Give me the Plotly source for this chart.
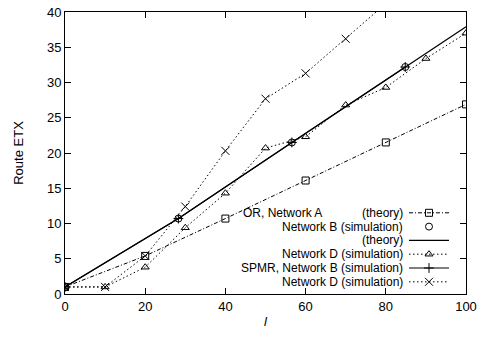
import plotly.graph_objects as go

# ---- data ----
l_A = [0, 20, 40, 60, 80, 100]
etx_OR_A_theory = [1, 5.4, 10.7, 16.1, 21.5, 26.9]

l_B = [0, 28.28, 56.57, 84.85]
etx_OR_B_sim = [1, 10.7, 21.5, 32.2]
etx_SPMR_B_sim = [1, 10.7, 21.5, 32.2]

l_theory = [0, 28.28, 56.57, 84.85, 100]
etx_theory = [1, 10.7, 21.5, 32.2, 37.9]

l_D = [0, 10, 20, 30, 40, 50, 60, 70, 80, 90, 100]
etx_OR_D_sim = [1, 1, 3.8, 9.4, 14.3, 20.7, 22.3, 26.8, 29.3, 33.4, 37.0]

l_D_spmr = [0, 10, 20, 30, 40, 50, 60, 70, 80]
etx_SPMR_D_sim = [1, 1, 5.4, 12.4, 20.3, 27.7, 31.3, 36.2, 41.2]

x_ticks = [0, 20, 40, 60, 80, 100]
y_ticks = [0, 5, 10, 15, 20, 25, 30, 35, 40]

legend_labels = ["(theory)", "Network B (simulation)", "(theory)",
                 "Network D (simulation)", "SPMR, Network B (simulation)",
                 "Network D (simulation)"]

FONT = "Liberation Sans, Arial, Helvetica, sans-serif"
DOT = "1.5px,2.5px"
DASHDOT = "4px,2px,1px,2px"

styles = [
    dict(dash=DASHDOT, symbol="square-open", lines=True, size=7),
    dict(dash=None, symbol="circle-open", lines=False, size=7),
    dict(dash="solid", symbol=None, lines=True, size=0),
    dict(dash=DOT, symbol="triangle-up-open", lines=True, size=7),
    dict(dash="solid", symbol="cross-thin-open", lines=True, size=7),
    dict(dash=DOT, symbol="x-thin-open", lines=True, size=8),
]

fig = go.Figure()

series = [
    (l_A, etx_OR_A_theory),
    (l_B, etx_OR_B_sim),
    (l_theory, etx_theory),
    (l_D, etx_OR_D_sim),
    (l_B, etx_SPMR_B_sim),
    (l_D_spmr, etx_SPMR_D_sim),
]

for (xs, ys), st in zip(series, styles):
    mode = []
    if st["lines"]:
        mode.append("lines")
    if st["symbol"]:
        mode.append("markers")
    kw = dict(x=xs, y=ys, mode="+".join(mode), showlegend=False,
              hoverinfo="skip")
    if st["lines"]:
        kw["line"] = dict(color="black", width=1.2 if st["dash"] == "solid" else 1,
                          dash=st["dash"])
    if st["symbol"]:
        kw["marker"] = dict(symbol=st["symbol"], size=st["size"], color="black",
                            line=dict(color="black", width=1))
    fig.add_trace(go.Scatter(**kw))

# ---- manual gnuplot-style legend (text right, sample on right) ----
row_px = [212.8, 226.6, 240.4, 254.2, 268.0, 281.8]
row_y = [(294 - p) / 282 for p in row_px]
sx0, sxm, sx1 = (409 - 65) / 401, (429 - 65) / 401, (449 - 65) / 401
text_right = (404 - 65) / 401
LEG_FONT = 12

for ry, st, lab in zip(row_y, styles, legend_labels):
    if st["lines"]:
        fig.add_trace(go.Scatter(x=[sx0, sx1], y=[ry, ry], mode="lines",
                                 xaxis="x2", yaxis="y2", showlegend=False,
                                 hoverinfo="skip",
                                 line=dict(color="black",
                                           width=1.2 if st["dash"] == "solid" else 1,
                                           dash=st["dash"])))
    if st["symbol"]:
        fig.add_trace(go.Scatter(x=[sxm], y=[ry], mode="markers",
                                 xaxis="x2", yaxis="y2", showlegend=False,
                                 hoverinfo="skip",
                                 marker=dict(symbol=st["symbol"], size=st["size"],
                                             color="black",
                                             line=dict(color="black", width=1))))
    fig.add_annotation(x=text_right, y=ry, xref="paper", yref="paper",
                       text=lab, showarrow=False, xanchor="right",
                       yanchor="middle", borderpad=0,
                       font=dict(size=LEG_FONT, color="black"))

fig.add_annotation(x=(242 - 65) / 401, y=row_y[0], xref="paper", yref="paper",
                   text="OR, Network A", showarrow=False, xanchor="left",
                   yanchor="middle", borderpad=0,
                   font=dict(size=LEG_FONT, color="black"))

axis_common = dict(showline=True, linecolor="black", linewidth=1, mirror="ticks",
                   ticks="inside", ticklen=6, tickcolor="black", tickwidth=1,
                   showgrid=False, zeroline=False, automargin=False,
                   tickfont=dict(size=13, color="black"))

fig.update_layout(
    width=484, height=338,
    margin=dict(l=65, r=18, t=12, b=44),
    paper_bgcolor="white", plot_bgcolor="white",
    font=dict(family=FONT, size=13, color="black"),
    xaxis=dict(range=[0, 100], tickvals=x_ticks,
               title=dict(text="<i>l</i>", standoff=4, font=dict(size=13)),
               **axis_common),
    yaxis=dict(range=[0, 40], tickvals=y_ticks,
               title=dict(text="Route ETX", standoff=20, font=dict(size=13)),
               **axis_common),
    xaxis2=dict(overlaying="x", range=[0, 1], visible=False),
    yaxis2=dict(overlaying="y", range=[0, 1], visible=False),
)

fig.write_html("out.html")
